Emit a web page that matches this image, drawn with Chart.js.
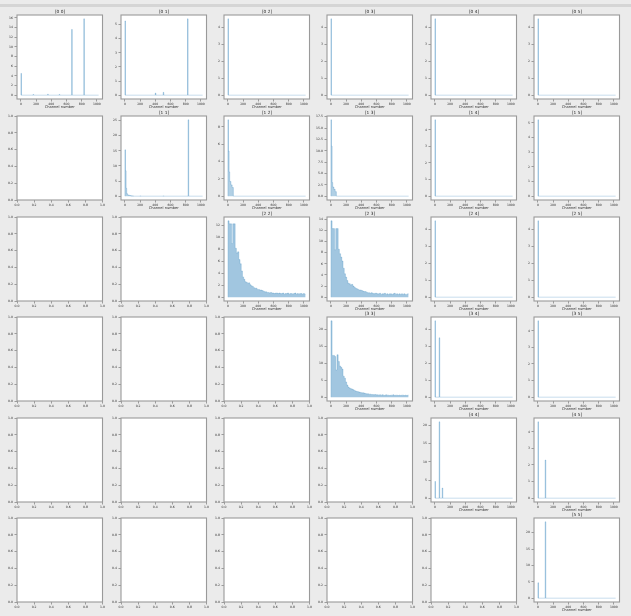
<!DOCTYPE html>
<html>
<head>
<meta charset="utf-8">
<script src="https://cdn.jsdelivr.net/npm/chart.js@4/dist/chart.umd.min.js"></script>
<style>
  body { margin: 0; width: 631px; height: 616px; overflow: hidden; position: relative; background: #ebebeb; }
  #topbar { position: absolute; left: 0; top: 4px; width: 631px; height: 3px; background: #d5d5d5; }
  canvas { position: absolute; }
</style>
</head>
<body>
<div id="topbar"></div>
<script>
// histogram counts per channel pair
const lastChannel = 1023;
const channelTicks = [0, 200, 400, 600, 800, 1000];
const emptyTicks = [0, 0.2, 0.4, 0.6, 0.8, 1.0];
const spikeBin = 8;
const denseBin = 16;

// [start channel, count]
const spikes00 = [[0, 4.5], [160, 0.15], [352, 0.2], [504, 0.15], [668, 13.6], [828, 15.8]];
const spikes01 = [[0, 5.25], [400, 0.15], [504, 0.2], [824, 5.4]];
const spikes02 = [[0, 4.5]];
const spikes03 = [[0, 4.5]];
const spikes04 = [[0, 4.5]];
const spikes05 = [[0, 4.5]];
const spikes11 = [[0, 15.3], [8, 8.4], [16, 2.6], [24, 0.9], [32, 0.5], [40, 0.4], [48, 0.3], [56, 0.3], [64, 0.2], [72, 0.2], [88, 0.15], [104, 0.1], [200, 0.1], [504, 0.1], [832, 25.2]];
const spikes12 = [[0, 8.8], [8, 5.2], [16, 2.8], [24, 1.7], [32, 1.7], [40, 1.3], [48, 1.3], [56, 1.0], [64, 1.0]];
const spikes13 = [[0, 16.8], [8, 11.0], [16, 3.0], [24, 2.0], [32, 2.0], [40, 1.5], [48, 1.5], [56, 1.0], [64, 1.0]];
const spikes14 = [[0, 4.6]];
const spikes15 = [[0, 5.2]];
const spikes24 = [[0, 4.5]];
const spikes25 = [[0, 4.5]];
const spikes34 = [[0, 4.5], [56, 3.5]];
const spikes35 = [[0, 4.6]];
const spikes44 = [[0, 4.6], [56, 21.0], [96, 2.8]];
const spikes45 = [[0, 4.6], [96, 2.3]];
const spikes55 = [[0, 4.7], [96, 23.3]];

// 64 bins of 16 channels
const dense22 = [12.8, 12.3, 12.3, 9.0, 12.3, 12.3, 8.2, 7.4, 7.6, 6.3,
  5.6, 4.4, 3.4, 3.0, 2.6, 2.5, 2.3, 2.4, 2.1, 1.9,
  1.8, 1.6, 1.5, 1.5, 1.3, 1.3, 1.2, 1.2, 1.1, 1.0,
  0.9, 0.9, 0.8, 0.8, 0.7, 0.8, 0.7, 0.7, 0.6, 0.7,
  0.7, 0.6, 0.7, 0.6, 0.6, 0.7, 0.5, 0.6, 0.6, 0.7,
  0.5, 0.6, 0.6, 0.5, 0.6, 0.7, 0.5, 0.6, 0.5, 0.6,
  0.6, 0.5, 0.6, 0.5];
const dense23 = [13.7, 12.3, 12.3, 8.5, 12.3, 12.3, 8.6, 7.8, 7.2, 6.5,
  5.2, 4.2, 3.6, 3.0, 2.5, 2.4, 2.2, 2.3, 2.0, 1.8,
  1.6, 1.5, 1.4, 1.3, 1.3, 1.2, 1.1, 1.0, 1.0, 0.9,
  0.8, 0.8, 0.7, 0.8, 0.7, 0.6, 0.7, 0.7, 0.6, 0.6,
  0.7, 0.5, 0.6, 0.6, 0.7, 0.5, 0.6, 0.5, 0.6, 0.6,
  0.5, 0.6, 0.7, 0.5, 0.6, 0.5, 0.6, 0.5, 0.6, 0.5,
  0.6, 0.5, 0.5, 0.6];
const dense33 = [22.5, 12.3, 12.3, 12.0, 8.0, 12.5, 10.5, 9.2, 8.8, 8.3,
  6.2, 5.6, 4.5, 3.6, 3.0, 2.7, 2.5, 2.4, 2.2, 2.0,
  1.8, 1.7, 1.6, 1.5, 1.4, 1.3, 1.3, 1.2, 1.1, 1.0,
  1.0, 0.9, 0.9, 0.8, 0.8, 0.7, 0.8, 0.7, 0.7, 0.6,
  0.7, 0.6, 0.7, 0.6, 0.5, 0.7, 0.6, 0.6, 0.5, 0.6,
  0.6, 0.7, 0.5, 0.6, 0.6, 0.5, 0.6, 0.5, 0.6, 0.6,
  0.5, 0.6, 0.5, 0.6];

const spikeData = {
  "0 0": spikes00, "0 1": spikes01, "0 2": spikes02, "0 3": spikes03, "0 4": spikes04, "0 5": spikes05,
  "1 1": spikes11, "1 2": spikes12, "1 3": spikes13, "1 4": spikes14, "1 5": spikes15,
  "2 4": spikes24, "2 5": spikes25, "3 4": spikes34, "3 5": spikes35,
  "4 4": spikes44, "4 5": spikes45, "5 5": spikes55,
};
const denseData = { "2 2": dense22, "2 3": dense23, "3 3": dense33 };

// y tick spacing and decimals for each panel
const yStep = {
  "0 0": 2, "0 1": 1, "0 2": 1, "0 3": 1, "0 4": 1, "0 5": 1,
  "1 1": 5, "1 2": 2, "1 3": 2.5, "1 4": 1, "1 5": 1,
  "2 2": 2, "2 3": 2, "2 4": 1, "2 5": 1,
  "3 3": 5, "3 4": 1, "3 5": 1,
  "4 4": 5, "4 5": 1, "5 5": 5,
};
const yDecimals = { "1 3": 1 };

// step outline: drop back to zero only where the next bin is not adjacent
const spikePoints = (bins, w) => {
  const pts = [{ x: 0, y: 0 }];
  bins.forEach(([c, h], i) => {
    pts.push({ x: c, y: h });
    const next = bins[i + 1];
    if (!next || next[0] !== c + w) pts.push({ x: c + w, y: 0 });
  });
  pts.push({ x: lastChannel, y: 0 });
  return pts;
};

const densePoints = (vals, w) => {
  const pts = [{ x: 0, y: 0 }];
  vals.forEach((v, i) => pts.push({ x: i * w, y: v }));
  pts.push({ x: lastChannel, y: vals[vals.length - 1] });
  return pts;
};

const fontFamily = "DejaVu Sans";
const frame = {
  id: "frame",
  beforeDraw(chart) {
    const { ctx, chartArea: a } = chart;
    ctx.save();
    ctx.fillStyle = "#ffffff";
    ctx.fillRect(a.left, a.top, a.width, a.height);
    ctx.restore();
  },
  afterDraw(chart) {
    const { ctx, chartArea: a } = chart;
    ctx.save();
    ctx.strokeStyle = "#9a9a9a";
    ctx.lineWidth = 1.1;
    ctx.strokeRect(a.left, a.top, a.width, a.height);
    ctx.restore();
  },
};

const left0 = 17.4, stepX = 103.34;
const top0 = 15.3, stepY = 100.6;

for (let r = 0; r < 6; r++) {
  for (let c = 0; c < 6; c++) {
    const name = r + " " + c;
    const upper = c >= r;

    const canvas = document.createElement("canvas");
    canvas.width = 130;
    canvas.height = 109;
    canvas.style.left = Math.round(left0 + c * stepX) - 22 + "px";
    canvas.style.top = Math.round(top0 + r * stepY) - 11 + "px";
    document.body.appendChild(canvas);

    let datasets = [];
    let xMin = 0, xMax = 1, xTicks = emptyTicks, xDec = 1;
    let yMin = 0, yMax = 1, yTicks = emptyTicks, yDec = 1;

    if (upper) {
      const dense = !!denseData[name];
      const pts = dense ? densePoints(denseData[name], denseBin) : spikePoints(spikeData[name], spikeBin);
      const top = Math.max(...pts.map(p => p.y));
      yMin = -0.05 * top;
      yMax = 1.05 * top;
      yTicks = [];
      for (let v = 0; v <= yMax + 1e-9; v += yStep[name]) yTicks.push(v);
      yDec = yDecimals[name] || 0;
      xMin = -0.05 * lastChannel;
      xMax = 1.05 * lastChannel;
      xTicks = channelTicks;
      xDec = 0;
      datasets = [
        {
          data: pts,
          stepped: true,
          fill: "origin",
          backgroundColor: dense ? "rgba(31, 119, 180, 0.42)" : "rgba(31, 119, 180, 0.35)",
          borderColor: dense ? "rgba(31, 119, 180, 0.25)" : "rgba(31, 119, 180, 0.3)",
          borderWidth: 0.8,
          pointRadius: 0,
          tension: 0,
        },
      ];
    }

    new Chart(canvas, {
      type: "line",
      data: { datasets },
      options: {
        responsive: false,
        animation: false,
        devicePixelRatio: 1,
        layout: { padding: 0 },
        plugins: {
          legend: { display: false },
          tooltip: { enabled: false },
          title: {
            display: true,
            text: upper ? "[" + name + "]" : "",
            color: "#222",
            font: { family: fontFamily, size: 4.3, weight: "normal", lineHeight: 1.2 },
            padding: { top: 5.42, bottom: 0.42 },
          },
        },
        scales: {
          x: {
            type: "linear",
            min: xMin,
            max: xMax,
            bounds: "data",
            afterFit: s => { s.height = 14; },
            afterBuildTicks: s => { s.ticks = xTicks.map(v => ({ value: v })); },
            border: { display: false },
            grid: { drawOnChartArea: false, drawTicks: true, tickLength: 2.5, color: "#666", lineWidth: 0.6 },
            ticks: {
              autoSkip: false,
              maxRotation: 0,
              padding: 0.5,
              color: "#333",
              font: { family: fontFamily, size: 3.1 },
              callback: v => Number(v).toFixed(xDec),
            },
            title: {
              display: upper,
              text: "Channel number",
              color: "#333",
              font: { family: fontFamily, size: 3.6 },
              padding: { top: 0, bottom: 3.6 },
            },
          },
          y: {
            type: "linear",
            min: yMin,
            max: yMax,
            bounds: "data",
            afterFit: s => { s.width = 22; },
            afterBuildTicks: s => { s.ticks = yTicks.map(v => ({ value: v })); },
            border: { display: false },
            grid: { drawOnChartArea: false, drawTicks: true, tickLength: 2.5, color: "#666", lineWidth: 0.6 },
            ticks: {
              autoSkip: false,
              padding: 1.5,
              color: "#333",
              font: { family: fontFamily, size: 3.1 },
              callback: v => Number(v).toFixed(yDec),
            },
          },
          // empty right axis so the title centres over the panel
          y2: {
            type: "linear",
            position: "right",
            min: 0,
            max: 1,
            afterFit: s => { s.width = 22.5; },
            border: { display: false },
            grid: { display: false },
            ticks: { display: false },
          },
        },
      },
      plugins: [frame],
    });
  }
}
</script>
</body>
</html>
